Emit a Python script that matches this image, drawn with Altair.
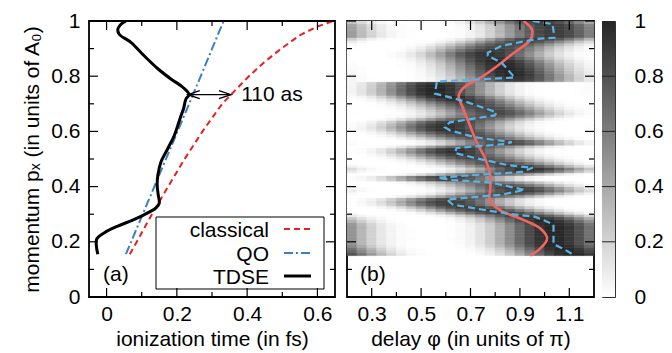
import altair as alt
import numpy as np
import pandas as pd

FONT = "Liberation Sans"
FS = 21
DARK = "#262626"

# ---------------- panel (a) data ----------------
classical_t = [0.066, 0.086, 0.129, 0.175, 0.222, 0.273, 0.329, 0.405, 0.448, 0.497, 0.552, 0.600, 0.640, 0.648]
classical_p = [0.155, 0.200, 0.300, 0.400, 0.500, 0.600, 0.700, 0.800, 0.850, 0.900, 0.950, 0.980, 0.998, 1.000]
qo_t = [0.055, 0.245, 0.333]
qo_p = [0.155, 0.730, 1.000]
tdse_t = [-0.025, -0.029, -0.028, -0.006, 0.032, 0.079, 0.117, 0.141, 0.150, 0.147, 0.144, 0.146, 0.155, 0.175,
          0.193, 0.212, 0.219, 0.226, 0.235, 0.217, 0.183, 0.146, 0.107, 0.070, 0.036, 0.032, 0.041, 0.055]
tdse_p = [0.155, 0.185, 0.210, 0.233, 0.257, 0.281, 0.305, 0.323, 0.340, 0.370, 0.406, 0.442, 0.490, 0.540,
          0.586, 0.658, 0.682, 0.718, 0.733, 0.760, 0.790, 0.827, 0.874, 0.922, 0.952, 0.970, 0.988, 1.000]
arrow_t = [0.231, 0.354]
arrow_p = 0.733
arrow_label = "110 as"
legend_labels = ["classical", "QO", "TDSE"]
xa_major = [0, 0.2, 0.4, 0.6]
xa_minor = [0.1, 0.3, 0.5]
y_major = [0, 0.2, 0.4, 0.6, 0.8, 1.0]
y_minor = [0.1, 0.3, 0.5, 0.7, 0.9]

# ---------------- panel (b) data ----------------
heat_peak = [1.112, 1.093, 1.075, 1.050, 1.036, 1.036, 1.036, 1.036, 1.036, 1.036, 1.036, 1.030, 1.003,
             0.976, 0.920, 0.830, 0.759, 0.693, 0.628, 0.615, 0.630, 0.750, 0.848, 0.903, 0.883, 0.832,
             0.770, 0.620, 0.613, 0.770, 0.913, 0.943, 0.880, 0.815, 0.763, 0.712, 0.668, 0.637, 0.642,
             0.713, 0.842, 0.834, 0.750, 0.693, 0.652, 0.614, 0.596, 0.607, 0.630, 0.703, 0.776, 0.804,
             0.786, 0.755, 0.720, 0.689, 0.650, 0.610, 0.565, 0.557, 0.559, 0.561, 0.563, 0.880, 0.879,
             0.869, 0.860, 0.850, 0.840, 0.830, 0.812, 0.790, 0.770, 0.770, 0.793, 0.815, 0.854, 0.911,
             0.968, 1.040, 1.040, 1.035, 1.035, 1.030, 0.990]
heat_amp = [1.0, 1.0, 1.0, 1.0, 1.0, 1.0, 1.0, 1.0, 1.0, 1.0, 1.0, 1.0, 1.0,
            0.95, 0.9, 0.9, 0.9, 0.9, 0.9, 0.9, 0.85, 0.75, 0.85, 0.9, 0.9, 0.8,
            0.7, 0.85, 0.9, 0.75, 0.9, 0.95, 0.9, 0.85, 0.8, 0.85, 0.9, 0.95, 0.95,
            0.8, 0.85, 0.85, 0.8, 0.85, 0.9, 0.95, 0.95, 0.95, 0.9, 0.8, 0.8, 0.85,
            0.85, 0.85, 0.85, 0.9, 0.95, 1.0, 1.0, 1.0, 1.0, 1.0, 0.95, 0.9, 0.95,
            1.0, 1.0, 1.0, 1.0, 1.0, 1.0, 0.95, 0.95, 0.95, 0.9, 0.85, 0.85, 0.85,
            0.9, 0.9, 0.9, 0.9, 0.9, 0.9, 0.9]
dash_delay = [0.952, 1.032, 1.040, 0.968, 0.826, 0.770, 0.770, 0.826, 0.879, 0.564, 0.556, 0.636, 0.689,
              0.806, 0.798, 0.616, 0.596, 0.616, 0.717, 0.867, 0.838, 0.644, 0.636, 0.717, 0.851, 0.952,
              0.907, 0.717, 0.568, 0.628, 0.786, 0.919, 0.826, 0.689, 0.604, 0.628, 0.745, 0.851, 0.960,
              1.036, 1.036, 1.073, 1.113]
dash_p = [1.000, 0.989, 0.939, 0.935, 0.910, 0.885, 0.874, 0.849, 0.795, 0.781, 0.737, 0.719, 0.705,
          0.669, 0.658, 0.633, 0.615, 0.604, 0.579, 0.561, 0.554, 0.540, 0.522, 0.504, 0.478, 0.468,
          0.453, 0.442, 0.432, 0.424, 0.414, 0.388, 0.371, 0.360, 0.353, 0.335, 0.317, 0.302, 0.291,
          0.263, 0.191, 0.176, 0.155]
smooth_delay = [0.915, 0.949, 0.942, 0.875, 0.807, 0.740, 0.672, 0.652, 0.666, 0.693, 0.726, 0.760,
                0.780, 0.780, 0.778, 0.821, 0.902, 0.983, 1.010, 0.983, 0.942]
smooth_p = [1.000, 0.968, 0.932, 0.884, 0.836, 0.794, 0.758, 0.728, 0.692, 0.632, 0.560, 0.500,
            0.440, 0.392, 0.350, 0.314, 0.284, 0.248, 0.212, 0.176, 0.150]
xb_major = [0.3, 0.5, 0.7, 0.9, 1.1]
xb_minor = [0.4, 0.6, 0.8, 1.0]
cbar_ticks = [0.2, 0.4, 0.6, 0.8]
cbar_labels = [0, 0.2, 0.4, 0.6, 0.8, 1.0]

# heat map grid
delay_edges = np.round(np.arange(0.2, 1.2001, 0.04), 4)
rows = []
for i, (pk, am) in enumerate(zip(heat_peak, heat_amp)):
    p0 = round(0.15 + 0.01 * i, 4)
    for j in range(len(delay_edges) - 1):
        d0, d1 = delay_edges[j], delay_edges[j + 1]
        dc = 0.5 * (d0 + d1)
        v = am * np.cos(np.pi * (dc - pk)) ** 4
        rows.append({"d0": d0, "d1": d1, "p0": p0, "p1": round(p0 + 0.01, 4), "v": float(v)})
heat_df = pd.DataFrame(rows)

WA, HA = 246, 276
WB = 247
WC = 13

xs_a = alt.Scale(domain=[-0.05, 0.65], nice=False, zero=False)
ys = alt.Scale(domain=[0, 1], nice=False, zero=False)
xs_b = alt.Scale(domain=[0.2, 1.2], nice=False, zero=False)
cs = alt.Scale(domain=[0, 1], range=["#ffffff", DARK], interpolate="rgb")

MAJ, MIN = 9, 5


def tick_layers(xmaj, xmin, ymaj, ymin, xscale, W, H):
    out = []
    for vals, ln in ((xmaj, MAJ), (xmin, MIN)):
        df = pd.DataFrame({"v": vals})
        b = alt.Chart(df).mark_rule(color="black", strokeWidth=1.2)
        out.append(b.encode(x=alt.X("v:Q", scale=xscale, axis=None), y=alt.value(H), y2=alt.value(H - ln)))
        out.append(b.encode(x=alt.X("v:Q", scale=xscale, axis=None), y=alt.value(0), y2=alt.value(ln)))
    for vals, ln in ((ymaj, MAJ), (ymin, MIN)):
        df = pd.DataFrame({"v": vals})
        b = alt.Chart(df).mark_rule(color="black", strokeWidth=1.2)
        out.append(b.encode(y=alt.Y("v:Q", scale=ys, axis=None), x=alt.value(0), x2=alt.value(ln)))
        out.append(b.encode(y=alt.Y("v:Q", scale=ys, axis=None), x=alt.value(W), x2=alt.value(W - ln)))
    return out


def line_df(xv, yv):
    return pd.DataFrame({"x": xv, "y": yv, "i": range(len(xv))})


axis_common = dict(ticks=False, tickSize=0, domain=False, grid=False, labelFontSize=FS, titleFontSize=FS,
                   labelFont=FONT, titleFont=FONT, titleFontWeight="normal", labelColor="black",
                   titleColor="black", format=".1~f")

# ---------------- panel (a) ----------------
cl = alt.Chart(line_df(classical_t, classical_p)).mark_line(
    color="#e8201e", strokeWidth=2, strokeDash=[6, 4], clip=True).encode(
    x=alt.X("x:Q", scale=xs_a, title="ionization time (in fs)",
            axis=alt.Axis(values=xa_major, labelPadding=6, titlePadding=4, **axis_common)),
    y=alt.Y("y:Q", scale=ys, title="momentum pₓ (in units of A₀)",
            axis=alt.Axis(values=y_major, labelPadding=9, titlePadding=8, **axis_common)),
    order="i:Q")
qo = alt.Chart(line_df(qo_t, qo_p)).mark_line(
    color="#3b7fc4", strokeWidth=2, strokeDash=[9, 3, 2, 3], clip=True).encode(
    x=alt.X("x:Q", scale=xs_a, axis=None), y=alt.Y("y:Q", scale=ys, axis=None), order="i:Q")
td = alt.Chart(line_df(tdse_t, tdse_p)).mark_line(
    color="black", strokeWidth=3, interpolate="catmull-rom", clip=True).encode(
    x=alt.X("x:Q", scale=xs_a, axis=None), y=alt.Y("y:Q", scale=ys, axis=None), order="i:Q")

arr_df = pd.DataFrame({"t0": [arrow_t[0]], "t1": [arrow_t[1]], "p": [arrow_p]})
arr = alt.Chart(arr_df).mark_rule(color="black", strokeWidth=1.3).encode(
    x=alt.X("t0:Q", scale=xs_a, axis=None), x2="t1:Q", y=alt.Y("p:Q", scale=ys, axis=None))
headL = alt.Chart(arr_df).mark_point(shape="M2,-0.67L0,0L2,0.67", size=144, filled=False,
                                     color="black", strokeWidth=1.3, opacity=1).encode(
    x=alt.X("t0:Q", scale=xs_a, axis=None), y=alt.Y("p:Q", scale=ys, axis=None))
headR = alt.Chart(arr_df).mark_point(shape="M-2,-0.67L0,0L-2,0.67", size=144, filled=False,
                                     color="black", strokeWidth=1.3, opacity=1).encode(
    x=alt.X("t1:Q", scale=xs_a, axis=None), y=alt.Y("p:Q", scale=ys, axis=None))
lab_df = pd.DataFrame({"t": [0.383], "p": [arrow_p], "s": [arrow_label]})
lab = alt.Chart(lab_df).mark_text(align="left", baseline="middle", fontSize=FS, font=FONT,
                                  color="black").encode(
    x=alt.X("t:Q", scale=xs_a, axis=None), y=alt.Y("p:Q", scale=ys, axis=None), text="s:N")

one = pd.DataFrame({"a": [0]})
leg_box = alt.Chart(one).mark_rect(fill="white", stroke="black", strokeWidth=1).encode(
    x=alt.value(67), x2=alt.value(235), y=alt.value(196), y2=alt.value(268))
leg_txt = alt.Chart(pd.DataFrame({"s": legend_labels, "yy": [216, 240, 263]})).mark_text(
    align="right", baseline="alphabetic", fontSize=FS, font=FONT, color="black").encode(
    x=alt.value(180), y=alt.Y("yy:Q", scale=None, axis=None), text="s:N")
leg_cl = alt.Chart(one).mark_rule(color="#e8201e", strokeWidth=2, strokeDash=[6, 4]).encode(
    x=alt.value(195), x2=alt.value(222), y=alt.value(208))
leg_qo = alt.Chart(one).mark_rule(color="#3b7fc4", strokeWidth=2, strokeDash=[9, 3, 2, 3]).encode(
    x=alt.value(195), x2=alt.value(222), y=alt.value(232))
leg_td = alt.Chart(one).mark_rule(color="black", strokeWidth=3).encode(
    x=alt.value(195), x2=alt.value(222), y=alt.value(255))
tag_a = alt.Chart(pd.DataFrame({"s": ["(a)"]})).mark_text(
    align="left", baseline="alphabetic", fontSize=FS, font=FONT, color="black").encode(
    x=alt.value(14), y=alt.value(260), text="s:N")

panel_a = alt.layer(cl, qo, td, arr, headL, headR, lab, leg_box, leg_txt, leg_cl, leg_qo, leg_td, tag_a,
                    *tick_layers(xa_major, xa_minor, y_major, y_minor, xs_a, WA, HA)
                    ).properties(width=WA, height=HA).resolve_axis(x="independent", y="independent")

# ---------------- panel (b) ----------------
heat = alt.Chart(heat_df).mark_rect(strokeWidth=0.6).encode(
    x=alt.X("d0:Q", scale=xs_b, title="delay φ (in units of π)",
            axis=alt.Axis(values=xb_major, labelPadding=6, titlePadding=4, **axis_common)),
    x2="d1:Q",
    y=alt.Y("p0:Q", scale=ys, axis=None), y2="p1:Q",
    color=alt.Color("v:Q", scale=cs, legend=None),
    stroke=alt.Stroke("v:Q", scale=cs, legend=None))
red = alt.Chart(line_df(smooth_delay, smooth_p)).mark_line(
    color="#f36560", strokeWidth=2.6, interpolate="catmull-rom", clip=True).encode(
    x=alt.X("x:Q", scale=xs_b, axis=None), y=alt.Y("y:Q", scale=ys, axis=None), order="i:Q")
blue = alt.Chart(line_df(dash_delay, dash_p)).mark_line(
    color="#58b3e6", strokeWidth=2.2, strokeDash=[7, 4], clip=True).encode(
    x=alt.X("x:Q", scale=xs_b, axis=None), y=alt.Y("y:Q", scale=ys, axis=None), order="i:Q")
tag_b = alt.Chart(pd.DataFrame({"s": ["(b)"]})).mark_text(
    align="left", baseline="alphabetic", fontSize=FS, font=FONT, color="black").encode(
    x=alt.value(13), y=alt.value(260), text="s:N")
panel_b = alt.layer(heat, red, blue, tag_b,
                    *tick_layers(xb_major, xb_minor, y_major, y_minor, xs_b, WB, HA)
                    ).properties(width=WB, height=HA).resolve_axis(x="independent", y="independent")

# ---------------- colour bar ----------------
grad = alt.LinearGradient(gradient="linear",
                          stops=[alt.GradientStop(color="#ffffff", offset=0),
                                 alt.GradientStop(color=DARK, offset=1)],
                          x1=0, x2=0, y1=1, y2=0)
cb_rect = alt.Chart(one).mark_rect(fill=grad).encode(
    x=alt.value(0), x2=alt.value(WC), y=alt.value(0), y2=alt.value(HA))
cb_lab = alt.Chart(pd.DataFrame({"v": cbar_labels})).mark_rule(opacity=0).encode(
    y=alt.Y("v:Q", scale=ys, title=None,
            axis=alt.Axis(orient="right", values=cbar_labels, labelPadding=19, **axis_common)),
    x=alt.value(0), x2=alt.value(WC))
cb_ticks = alt.Chart(pd.DataFrame({"v": cbar_ticks})).mark_rule(color="#222222", strokeWidth=1).encode(
    y=alt.Y("v:Q", scale=ys, axis=None), x=alt.value(0), x2=alt.value(WC))
cbar = alt.layer(cb_rect, cb_lab, cb_ticks).properties(
    width=WC, height=HA, view=alt.ViewBackground(stroke="#333333", strokeWidth=1)
).resolve_axis(y="independent")

right = alt.hconcat(panel_b, cbar, spacing=5).resolve_scale(x="independent", y="independent",
                                                             color="independent")
chart = alt.hconcat(panel_a, right, spacing=8).resolve_scale(
    x="independent", y="independent", color="independent").properties(
    padding={"left": 12, "top": 1, "right": 0, "bottom": 0}
).configure_view(stroke="black", strokeWidth=1.8).configure_text(font=FONT)

chart.save("out.html", embed_options={"renderer": "svg", "actions": False})
